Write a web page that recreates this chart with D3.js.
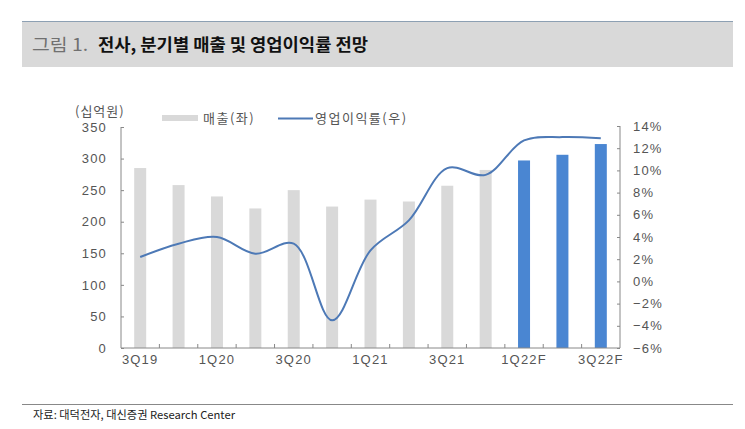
<!DOCTYPE html>
<html>
<head>
<meta charset="utf-8">
<script src="https://cdn.jsdelivr.net/npm/d3@7"></script>
<style>
  body { margin: 0; background: #fff; }
  svg text { font-family: "Noto Sans CJK KR", "Noto Sans", sans-serif; }
</style>
</head>
<body>
<div id="chart"></div>
<script>
// quarters, sales (십억원) and operating margin (%)
const quarters = ["3Q19", "4Q19", "1Q20", "2Q20", "3Q20", "4Q20", "1Q21", "2Q21", "3Q21", "4Q21", "1Q22F", "2Q22F", "3Q22F"];
const sales = [285, 258, 240, 221, 250, 224, 235, 232, 257, 282, 297, 306, 323];
const margin = [2.2, 3.4, 4.0, 2.5, 3.4, -3.5, 2.8, 5.5, 10.2, 9.6, 12.7, 13.0, 12.9];
const forecast = [false, false, false, false, false, false, false, false, false, false, true, true, true];
const xLabels = ["3Q19", "1Q20", "3Q20", "1Q21", "3Q21", "1Q22F", "3Q22F"];
const leftTicks = [0, 50, 100, 150, 200, 250, 300, 350];
const rightTicks = [-6, -4, -2, 0, 2, 4, 6, 8, 10, 12, 14];

const W = 745, H = 429;
const svg = d3.select("#chart").append("svg")
  .attr("width", W).attr("height", H);

// title band
svg.append("rect").attr("x", 22).attr("y", 21).attr("width", 711).attr("height", 46)
  .attr("fill", "#d9d9d9");
svg.append("line").attr("x1", 22).attr("x2", 733).attr("y1", 21.5).attr("y2", 21.5)
  .attr("stroke", "#8da0b3").attr("stroke-width", 1);
svg.append("text").attr("x", 32).attr("y", 51).attr("font-size", 17)
  .attr("fill", "#707070").attr("textLength", 56).attr("lengthAdjust", "spacingAndGlyphs")
  .text("그림 1.");
svg.append("text").attr("x", 98).attr("y", 51).attr("font-size", 17)
  .attr("fill", "#111").attr("font-weight", "bold")
  .attr("textLength", 270).attr("lengthAdjust", "spacingAndGlyphs")
  .text("전사, 분기별 매출 및 영업이익률 전망");

// footer
svg.append("line").attr("x1", 22).attr("x2", 733).attr("y1", 404.5).attr("y2", 404.5)
  .attr("stroke", "#888");
svg.append("text").attr("x", 33).attr("y", 419).attr("font-size", 11)
  .attr("fill", "#222").attr("textLength", 202).attr("lengthAdjust", "spacingAndGlyphs")
  .text("자료: 대덕전자, 대신증권 Research Center");

// scales
const x0 = 121, x1 = 620, yTop = 127, yBot = 348;
const x = d3.scaleBand().domain(quarters).range([x0, x1]);
const yL = d3.scaleLinear().domain([0, 350]).range([yBot, yTop]);
const yR = d3.scaleLinear().domain([-6, 14]).range([yBot, yTop - 1]);
const barW = 12;

// bars
svg.append("g").selectAll("rect").data(quarters).join("rect")
  .attr("x", d => x(d) + x.bandwidth() / 2 - barW / 2)
  .attr("y", (d, i) => yL(sales[i]))
  .attr("width", barW)
  .attr("height", (d, i) => yBot - yL(sales[i]))
  .attr("fill", (d, i) => forecast[i] ? "#4a86d2" : "#d9d9d9");

// line
const line = d3.line()
  .x((d, i) => x(quarters[i]) + x.bandwidth() / 2)
  .y(d => yR(d))
  .curve(d3.curveCatmullRom.alpha(0.5));
svg.append("path").datum(margin)
  .attr("d", line).attr("fill", "none")
  .attr("stroke", "#4d79b6").attr("stroke-width", 2);

const axisColor = "#888";
const labelColor = "#555";

// left axis
const gL = svg.append("g").attr("transform", `translate(${x0},0)`)
  .call(d3.axisLeft(yL).tickValues(leftTicks).tickSize(-3).tickPadding(14));
gL.select(".domain").attr("d", `M0,${yTop}V${yBot}`);

// right axis
const gR = svg.append("g").attr("transform", `translate(${x1},0)`)
  .call(d3.axisRight(yR).tickValues(rightTicks).tickSize(-3).tickPadding(13)
    .tickFormat(d => (d < 0 ? "\u2212" + Math.abs(d) : d) + "%"));
gR.select(".domain").attr("d", `M0,${yTop - 1}V${yBot}`);

// bottom axis with ticks between categories
const gB = svg.append("g").attr("transform", `translate(0,${yBot})`)
  .call(d3.axisBottom(x).tickValues([]).tickSizeOuter(0));
gB.select(".domain").attr("d", `M${x0},0H${x1}`);
gB.selectAll("line.sep").data(quarters.slice(1)).join("line")
  .attr("class", "sep")
  .attr("x1", d => x(d)).attr("x2", d => x(d))
  .attr("y1", 0).attr("y2", -4);
gB.selectAll("text.lab").data(xLabels).join("text")
  .attr("class", "lab")
  .attr("x", d => x(d) + x.bandwidth() / 2)
  .attr("y", 16)
  .attr("text-anchor", "middle");

[gL, gR, gB].forEach(g => {
  g.selectAll(".domain, line").attr("stroke", axisColor);
  g.selectAll("text").attr("fill", labelColor)
    .attr("font-size", 13).attr("letter-spacing", 1.2)
    .style("font-family", "'Liberation Sans', Arial, sans-serif");
});
gB.selectAll("text.lab").text(d => d);

// unit label
svg.append("text").attr("x", 75).attr("y", 116).attr("font-size", 13)
  .attr("fill", labelColor).attr("letter-spacing", 1).text("(십억원)");

// legend
svg.append("rect").attr("x", 162).attr("y", 115).attr("width", 36).attr("height", 6)
  .attr("fill", "#d9d9d9");
svg.append("text").attr("x", 203).attr("y", 123).attr("font-size", 13)
  .attr("fill", labelColor).attr("letter-spacing", 1.5).text("매출(좌)");
svg.append("line").attr("x1", 278).attr("x2", 313).attr("y1", 118.5).attr("y2", 118.5)
  .attr("stroke", "#4d79b6").attr("stroke-width", 2);
svg.append("text").attr("x", 315).attr("y", 123).attr("font-size", 13)
  .attr("fill", labelColor).attr("letter-spacing", 1.5).text("영업이익률(우)");
</script>
</body>
</html>
